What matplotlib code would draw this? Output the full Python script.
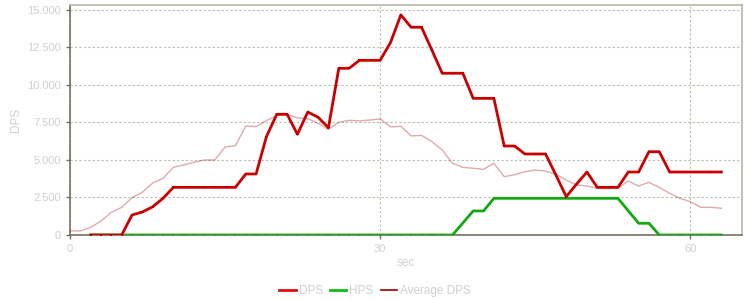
import matplotlib
matplotlib.use("Agg")
import matplotlib.pyplot as plt
from matplotlib.lines import Line2D
from matplotlib.ticker import FuncFormatter

plt.rcParams['font.family'] = ['Liberation Sans', 'DejaVu Sans']

dps_t = list(range(2, 64))
dps = [0, 0, 0, 0, 1330, 1530, 1880, 2440, 3170, 3170, 3170, 3170, 3170, 3170, 3170,
       4060, 4060, 6540, 8030, 8030, 6700, 8180, 7830, 7140, 11090, 11090, 11620, 11620,
       11620, 12800, 14640, 13820, 13820, 12310, 10760, 10760, 10760, 9090, 9090, 9090,
       5920, 5920, 5390, 5390, 5390, 3990, 2550, 3390, 4190, 3170, 3170, 3170, 4190, 4190,
       5540, 5540, 4190, 4190, 4190, 4190, 4190, 4190]

hps_t = list(range(2, 64))
hps = [0] * 36 + [800, 1600, 1600, 2440, 2440, 2440, 2440, 2440, 2440, 2440, 2440, 2440,
                  2440, 2440, 2440, 2440, 1610, 780, 780, 0, 0, 0, 0, 0, 0, 0]

avg_t = list(range(0, 64))
avg = [270, 270, 510, 930, 1510, 1840, 2480, 2840, 3460, 3770, 4500, 4660, 4840, 4990,
       4990, 5850, 5940, 7250, 7210, 7610, 7940, 8030, 7790, 7740, 7430, 7030, 7500, 7630,
       7590, 7650, 7720, 7190, 7230, 6590, 6630, 6210, 5660, 4770, 4500, 4440, 4370, 4770,
       3880, 4010, 4210, 4320, 4260, 4040, 3660, 3330, 3260, 3100, 3100, 3100, 3590, 3260,
       3500, 3170, 2770, 2440, 2220, 1840, 1840, 1780]

y_ticks = [0, 2500, 5000, 7500, 10000, 12500, 15000]
x_ticks = [0, 30, 60]

fig = plt.figure(figsize=(7.5, 3), dpi=100)
ax = fig.add_axes([70/750, 1-235/300, 672/750, 230/300])

text_col = '#d0d0d0'
grid_col = '#bcbcac'

ax.plot(avg_t, avg, color='#990000', alpha=0.33, lw=1.0, zorder=3)
ax.plot(hps_t, hps, color='#11aa11', lw=2.0, zorder=4, marker='s', markersize=1.5,
        markerfacecolor='#2a9a2a', markeredgewidth=0)
ax.plot(dps_t, dps, color='#cc0000', lw=2.0, zorder=5, marker='s', markersize=1.5,
        markerfacecolor='#b00000', markeredgewidth=0)

ax.set_xlim(0, 65)
ax.set_ylim(0, 15300)
ax.set_yticks(y_ticks)
ax.set_xticks(x_ticks)
ax.yaxis.set_major_formatter(FuncFormatter(lambda v, p: f"{int(v):,}".replace(',', '.')))
ax.grid(True, color=grid_col, linestyle=(0, (2, 2)), lw=0.8, zorder=1)
ax.tick_params(axis='both', colors='#707060', labelcolor=text_col, labelsize=8, length=3, width=1)

ax.spines['left'].set_color('#787060')
ax.spines['bottom'].set_color('#787060')
ax.spines['top'].set_color('#b8b8a8')
ax.spines['right'].set_color('#b8b8a8')
for s in ax.spines.values():
    s.set_linewidth(1.2)

ax.set_xlabel('sec', color=text_col, fontsize=8.5, labelpad=2)
ax.set_ylabel('DPS', color=text_col, fontsize=8.5, labelpad=4)

handles = [Line2D([], [], color='#dd1111', lw=2.0),
           Line2D([], [], color='#11bb11', lw=2.0),
           Line2D([], [], color='#990000', lw=1.2)]
leg = fig.legend(handles, ['DPS', 'HPS', 'Average DPS'], loc='lower center',
                 bbox_to_anchor=(0.5, -0.025), ncol=3, frameon=False, fontsize=8.5,
                 handlelength=1.4, handletextpad=0.25, columnspacing=0.6)
for t in leg.get_texts():
    t.set_color(text_col)

fig.savefig('out.png', dpi=100)
